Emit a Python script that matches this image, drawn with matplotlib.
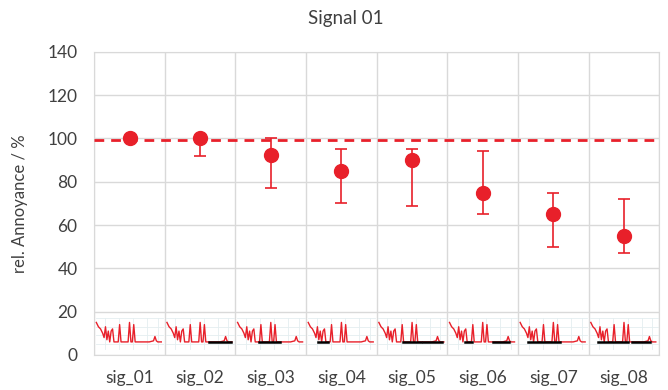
import numpy as np
import matplotlib
matplotlib.use('Agg')
import matplotlib.pyplot as plt

plt.rcParams['font.family'] = ['Lato', 'DejaVu Sans']

labels = ['sig_01', 'sig_02', 'sig_03', 'sig_04', 'sig_05', 'sig_06', 'sig_07', 'sig_08']
means = [100, 100, 92.5, 85, 90, 75, 65, 55]
upper = [100, 100, 100, 95, 95, 94, 75, 72]
lower = [100, 92, 77, 70, 69, 65, 50, 47]
ref_level = 99.5

# thumbnail waveform (fraction of cell width, value in %)
wave_x = [0.03, 0.06, 0.09, 0.12, 0.14, 0.16, 0.18, 0.20, 0.22, 0.24, 0.26, 0.28, 0.30,
          0.34, 0.36, 0.38, 0.40, 0.46, 0.48, 0.50, 0.52, 0.54, 0.56, 0.58, 0.62,
          0.70, 0.78, 0.84, 0.86, 0.88, 0.90, 0.95]
wave_y = [15, 13, 12, 10, 8, 13, 7, 11, 6, 11, 12, 6, 6,
          6, 14, 6, 6, 6, 6, 15, 6, 6, 14, 6, 6,
          6, 6, 6.5, 8.5, 6.5, 6, 6]
# black segments per cell (start, end)
black_segs = [[], [(0.62, 0.93)], [(0.34, 0.63)], [(0.17, 0.31)],
              [(0.37, 0.62), (0.66, 0.93)], [(0.25, 0.35), (0.65, 0.87)],
              [(0.14, 0.60)], [(0.13, 0.55), (0.62, 0.87)]]

red = '#e8202a'

fig = plt.figure(figsize=(6.68, 3.9), dpi=100)
ax = fig.add_axes([0.141, 0.090, 0.846, 0.777])

x = np.arange(len(labels))
ax.set_xlim(-0.5, len(labels) - 0.5)
ax.set_ylim(0, 140)

# thumbnails
for i in range(len(labels)):
    x0 = i - 0.5
    for gx in [0.15, 0.35, 0.55, 0.75, 0.9]:
        ax.plot([x0 + gx, x0 + gx], [2.5, 17], color='#e4eef0', lw=0.6, zorder=1)
    for gy in [5, 9, 13, 17]:
        ax.plot([x0 + 0.02, x0 + 0.98], [gy, gy], color='#e4eef0', lw=0.6, zorder=1)
    ax.plot([x0 + v for v in wave_x], wave_y, color=red, lw=1.0, zorder=2)
    for s, e in black_segs[i]:
        ax.plot([x0 + s, x0 + e], [5.8, 5.8], color='black', lw=1.8, zorder=3)

ax.axhline(ref_level, color=red, lw=2, ls=(0, (3.5, 2.5)), zorder=4)

yerr = [np.array(means) - np.array(lower), np.array(upper) - np.array(means)]
ax.errorbar(x, means, yerr=yerr, fmt='o', color=red, ecolor=red, elinewidth=1.2,
            capsize=4, capthick=1.2, markersize=10, zorder=5)

ax.set_yticks(range(0, 141, 20))
ax.set_xticks(x)
ax.set_xticklabels(labels)
ax.set_xticks(np.arange(-0.5, len(labels), 1), minor=True)
ax.grid(axis='y', which='major', color='#d9d9d9', lw=1)
ax.grid(axis='x', which='minor', color='#d9d9d9', lw=1)
ax.grid(axis='x', which='major', visible=False)
ax.tick_params(which='both', length=0, labelsize=12.5, colors='#404040')
ax.tick_params(axis='x', pad=11)
ax.tick_params(axis='y', pad=12)
for sp in ax.spines.values():
    sp.set_color('#d9d9d9')
ax.set_axisbelow(True)

ax.set_ylabel('rel. Annoyance / %', fontsize=12, color='#404040', labelpad=14)
fig.text(0.517, 0.953, 'Signal 01', ha='center', va='center', fontsize=13.5, color='#404040')

fig.savefig('out.png', dpi=100)
